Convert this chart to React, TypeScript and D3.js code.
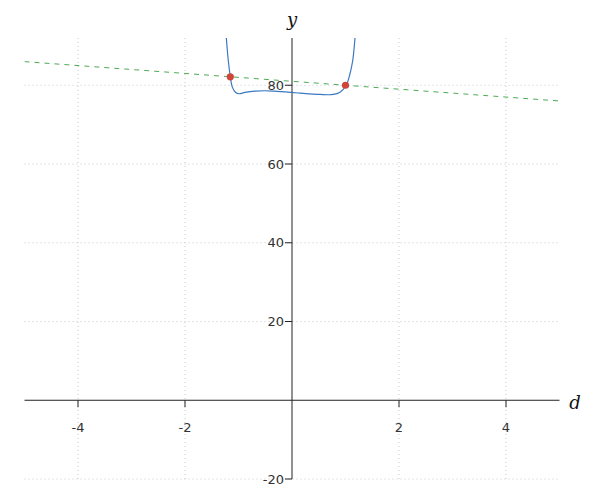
import React from "react";
import * as d3 from "d3";

const curveX = [-1.228, -1.191, -1.153, -1.116, -1.052, -0.991, -0.879, -0.692, -0.505, -0.331, 0, 0.15, 0.523, 0.772, 0.897, 1.009, 1.084, 1.135, 1.178];
const curveY = [92.06, 86.29, 82.23, 79.52, 78.17, 77.84, 78.17, 78.5, 78.6, 78.5, 78.17, 78.0, 77.66, 77.66, 78.25, 79.87, 82.92, 86.29, 92.06];
const lineX = [-5, 5];
const lineY = [86, 76];
const pointX = [-1.153, 1.0];
const pointY = [82.15, 80.0];
const xTicks = [-4, -2, 2, 4];
const yTicks = [-20, 20, 40, 60, 80];

const W = 600, H = 500;

export default function App() {
  const x = d3.scaleLinear().domain([-5, 5]).range([24.5, 559.5]);
  const y = d3.scaleLinear().domain([-20, 92]).range([479, 38]);
  const curvePts = curveX.map((v, i) => [v, curveY[i]] as [number, number]);
  const linePts = lineX.map((v, i) => [v, lineY[i]] as [number, number]);
  const lineGen = d3.line<[number, number]>().x(d => x(d[0])).y(d => y(d[1])).curve(d3.curveCatmullRom.alpha(0.5));
  const straight = d3.line<[number, number]>().x(d => x(d[0])).y(d => y(d[1]));
  const x0 = x(0), y0 = y(0);
  const font = "'DejaVu Sans', sans-serif";
  return (
    <svg width={W} height={H} style={{ position: "absolute", left: 0, top: 0 }}>
      <defs>
        <clipPath id="plot">
          <rect x={x(-5)} y={y(92)} width={x(5) - x(-5)} height={y(-20) - y(92)} />
        </clipPath>
      </defs>
      {yTicks.map(t => (
        <line key={"gy" + t} x1={x(-5)} x2={x(5)} y1={y(t)} y2={y(t)} stroke="#c8c8c8" strokeDasharray="1,3" />
      ))}
      {xTicks.map(t => (
        <line key={"gx" + t} x1={x(t)} x2={x(t)} y1={y(92)} y2={y(-20)} stroke="#c8c8c8" strokeDasharray="1,3" />
      ))}
      <line x1={x(-5)} x2={x(5)} y1={y0} y2={y0} stroke="#222" strokeWidth={1} />
      <line x1={x0} x2={x0} y1={y(92)} y2={y(-20)} stroke="#222" strokeWidth={1} />
      {xTicks.map(t => (
        <g key={"tx" + t}>
          <line x1={x(t)} x2={x(t)} y1={y0} y2={y0 + 7} stroke="#222" />
          <text x={x(t)} y={y0 + 32} textAnchor="middle" fontFamily={font} fontSize={13} fill="#333">{t}</text>
        </g>
      ))}
      {yTicks.map(t => (
        <g key={"ty" + t}>
          <line x1={x0 - 7} x2={x0} y1={y(t)} y2={y(t)} stroke="#222" />
          <text x={x0 - 8} y={y(t)} dy="0.35em" textAnchor="end" fontFamily={font} fontSize={13} fill="#333">{t}</text>
        </g>
      ))}
      <text x={x0} y={26} textAnchor="middle" fontFamily="'DejaVu Serif', serif" fontStyle="italic" fontSize={18} fill="#111">y</text>
      <text x={575} y={409} textAnchor="middle" fontFamily="'DejaVu Serif', serif" fontStyle="italic" fontSize={18} fill="#111">d</text>
      <g clipPath="url(#plot)">
        <path d={straight(linePts) || ""} fill="none" stroke="#4caa55" strokeWidth={1} strokeDasharray="5,5" />
        <path d={lineGen(curvePts) || ""} fill="none" stroke="#3b78c2" strokeWidth={1.2} />
      </g>
      {pointX.map((v, i) => (
        <circle key={"p" + i} cx={x(v)} cy={y(pointY[i])} r={3.6} fill="#d0443a" />
      ))}
    </svg>
  );
}
